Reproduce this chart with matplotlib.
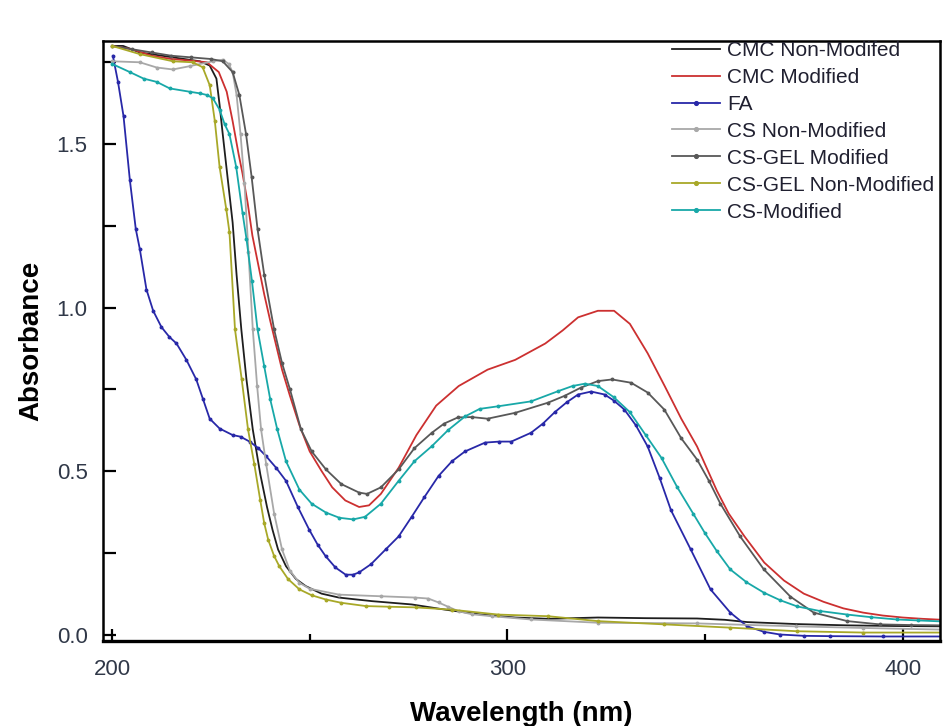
import numpy as np
import matplotlib
matplotlib.use('Agg')
import matplotlib.pyplot as plt
from matplotlib.ticker import MultipleLocator

plt.rcParams['font.family'] = ['Liberation Sans', 'DejaVu Sans']

# CMC Non-Modifed (black)
cmc_nm_wl = [200, 202.8, 207, 215.4, 222.2, 224.7, 226.4, 227.2, 228, 229.2, 230.5, 231.5, 232.7,
             234, 235.6, 237.5, 239.2, 240.6, 242, 244, 246.5, 249, 253, 257.4, 265.8, 275.8,
             284.3, 293.4, 302, 310.3, 322.9, 335, 348, 355, 360.7, 373, 386, 398, 410]
cmc_nm_a = [1.80, 1.80, 1.78, 1.765, 1.753, 1.74, 1.70, 1.62, 1.53, 1.40, 1.26, 1.10, 0.933,
            0.78, 0.627, 0.49, 0.39, 0.32, 0.26, 0.209, 0.17, 0.148, 0.125, 0.113, 0.102, 0.092,
            0.076, 0.061, 0.052, 0.048, 0.052, 0.050, 0.049, 0.045, 0.038, 0.032, 0.028, 0.026, 0.025]

# CMC Modified (red)
cmc_m_wl = [200, 205, 210, 215, 220, 224, 227, 229, 230.5, 232, 233, 234.3, 235.5, 237, 238.5,
            240, 241.6, 243, 245, 247.4, 250, 253, 255.7, 259, 262.5, 265, 268, 272.5, 277, 282,
            287.7, 295, 302, 309.6, 314, 317.9, 322.9, 327, 331, 335.5, 339.8, 344, 348, 353, 356,
            360, 365, 370, 375, 380, 385, 390, 395, 400, 405, 410]
cmc_m_a = [1.80, 1.79, 1.77, 1.76, 1.755, 1.75, 1.72, 1.66, 1.57, 1.47, 1.41, 1.32, 1.22, 1.13, 1.04,
           0.96, 0.88, 0.81, 0.73, 0.64, 0.56, 0.50, 0.45, 0.41, 0.39, 0.395, 0.43, 0.51, 0.61, 0.70,
           0.76, 0.81, 0.84, 0.89, 0.93, 0.97, 0.99, 0.99, 0.95, 0.86, 0.76, 0.66, 0.575, 0.44, 0.37,
           0.30, 0.22, 0.165, 0.125, 0.10, 0.08, 0.067, 0.058, 0.052, 0.048, 0.045]

# FA (blue)
fa_wl = [200.2, 201.5, 202.9, 204.5, 206, 207, 208.7, 210.4, 212.5, 214.5, 216.3, 218.8, 221.3, 223,
         224.7, 227.2, 230.5, 232.5, 234.8, 237, 239, 241.5, 244, 247, 249.9, 252, 254, 256.5, 259.1,
         261, 262.5, 265.5, 269.2, 272.5, 275.8, 279, 282.6, 286, 289.3, 294.4, 298, 301, 306, 309,
         312, 315, 317.9, 321.2, 324.6, 327, 329.6, 332.5, 335.5, 338.5, 341.4, 346.4, 351.4, 356.4,
         360.7, 365, 369, 375, 381.6, 395, 410]
fa_a = [1.77, 1.69, 1.585, 1.39, 1.24, 1.18, 1.055, 0.99, 0.94, 0.91, 0.89, 0.84, 0.78, 0.72,
        0.66, 0.63, 0.61, 0.605, 0.59, 0.57, 0.545, 0.51, 0.47, 0.39, 0.32, 0.275, 0.24, 0.205, 0.183,
        0.183, 0.19, 0.215, 0.26, 0.30, 0.36, 0.42, 0.485, 0.53, 0.56, 0.587, 0.59, 0.59, 0.617, 0.645,
        0.68, 0.71, 0.734, 0.743, 0.734, 0.715, 0.688, 0.64, 0.575, 0.48, 0.38, 0.26, 0.138, 0.067,
        0.025, 0.008, 0.0, -0.004, -0.005, -0.006, -0.006]

# CS Non-Modified (light grey)
cs_nm_wl = [200, 207, 211.3, 215.4, 219.6, 225.5, 228, 229.5, 230.5, 231.5, 232.5, 233.5, 234.5,
            235.6, 236.7, 237.7, 239, 241, 243, 245, 247.4, 250, 257.4, 268, 276.7, 280, 282.6,
            285, 287.7, 291, 296, 306, 322.9, 348, 373, 390, 410]
cs_nm_a = [1.753, 1.75, 1.734, 1.728, 1.738, 1.753, 1.758, 1.745, 1.72, 1.65, 1.53, 1.38, 1.17,
           0.933, 0.76, 0.627, 0.52, 0.37, 0.26, 0.195, 0.158, 0.14, 0.122, 0.117, 0.113, 0.11, 0.098,
           0.085, 0.071, 0.062, 0.056, 0.046, 0.036, 0.034, 0.025, 0.02, 0.015]

# CS-GEL Modified (dark grey)
gel_m_wl = [200, 205, 210, 215, 220, 225, 228, 230.5, 232.2, 233.9, 235.3, 236.8, 238.5, 241, 243,
            245, 247.8, 250.5, 254.1, 258, 262.5, 264.5, 268, 272.5, 276.5, 280.9, 284, 287.5, 291,
            295, 302, 310.3, 314.5, 318.6, 322.9, 326.5, 331.3, 335.5, 339.7, 344, 348, 351, 353.9,
            358.9, 364.9, 371.6, 377.5, 386, 394.2, 402, 410]
gel_m_a = [1.80, 1.79, 1.78, 1.77, 1.765, 1.76, 1.753, 1.72, 1.65, 1.53, 1.40, 1.24, 1.10, 0.933, 0.83,
           0.75, 0.627, 0.56, 0.505, 0.46, 0.434, 0.43, 0.45, 0.505, 0.57, 0.617, 0.645, 0.664, 0.665,
           0.66, 0.678, 0.709, 0.73, 0.755, 0.775, 0.78, 0.77, 0.74, 0.688, 0.60, 0.535, 0.47, 0.40,
           0.30, 0.199, 0.116, 0.067, 0.041, 0.031, 0.029, 0.028]

# CS-GEL Non-Modified (olive)
gel_nm_wl = [200, 207, 215.4, 220.4, 222.9, 224.7, 226, 227.2, 228.9, 229.7, 231.1, 232.8, 234.4,
             236, 237.5, 238.5, 239.5, 241, 242.3, 244.5, 247.4, 250.5, 254.1, 258, 264.2, 270,
             276.8, 285.9, 297.7, 310.3, 322.9, 339.7, 356.4, 373.3, 390, 410]
gel_nm_a = [1.80, 1.775, 1.753, 1.75, 1.735, 1.68, 1.57, 1.43, 1.30, 1.23, 0.933, 0.78, 0.627,
            0.52, 0.41, 0.34, 0.29, 0.24, 0.209, 0.17, 0.138, 0.12, 0.107, 0.097, 0.087, 0.085,
            0.083, 0.076, 0.061, 0.056, 0.041, 0.031, 0.021, 0.01, 0.006, 0.006]

# CS-Modified (teal)
cs_m_wl = [200, 204.5, 208, 211.3, 214.6, 219.6, 222.2, 224, 225.5, 227.2, 228.5, 229.7, 231.4, 233,
           234, 235.4, 236.8, 238.5, 240, 241.8, 244, 247.4, 250.5, 254.1, 257.5, 261, 264, 268,
           272.5, 276.5, 280.9, 285, 289.3, 293, 297.7, 306, 312.8, 316.5, 319.6, 322.9, 327, 331,
           335, 339, 343, 347, 350, 353, 356.4, 360.5, 364.9, 369, 373.3, 379, 386, 392, 398.5, 404, 410]
cs_m_a = [1.745, 1.72, 1.70, 1.69, 1.67, 1.66, 1.655, 1.65, 1.64, 1.605, 1.56, 1.53, 1.43, 1.29,
          1.21, 1.08, 0.933, 0.82, 0.72, 0.627, 0.53, 0.443, 0.40, 0.373, 0.357, 0.352, 0.36, 0.40,
          0.47, 0.53, 0.576, 0.625, 0.667, 0.69, 0.698, 0.713, 0.744, 0.76, 0.767, 0.76, 0.725, 0.68,
          0.61, 0.54, 0.45, 0.37, 0.31, 0.255, 0.199, 0.16, 0.128, 0.105, 0.086, 0.072, 0.061, 0.053,
          0.046, 0.043, 0.04]

series = [
    ('CMC Non-Modifed', cmc_nm_wl, cmc_nm_a, '#1e1e1e', None),
    ('CMC Modified', cmc_m_wl, cmc_m_a, '#cc3030', None),
    ('FA', fa_wl, fa_a, '#2828a8', 'o'),
    ('CS Non-Modified', cs_nm_wl, cs_nm_a, '#a8a8a8', 'o'),
    ('CS-GEL Modified', gel_m_wl, gel_m_a, '#585858', 'o'),
    ('CS-GEL Non-Modified', gel_nm_wl, gel_nm_a, '#a8a828', 'o'),
    ('CS-Modified', cs_m_wl, cs_m_a, '#18a8a8', 'o'),
]

fig = plt.figure(figsize=(9.43, 7.26), dpi=100)
ax = fig.add_axes([0.1092, 0.117, 0.8878, 0.8265])

for name, wl, a, col, mk in series:
    ax.plot(wl, a, color=col, lw=1.3, marker=mk, ms=1.8, label=name)

ax.set_xlim(197.7, 409.5)
ax.set_ylim(-0.02, 1.815)

ax.xaxis.set_major_locator(MultipleLocator(100))
ax.xaxis.set_minor_locator(MultipleLocator(50))
ax.yaxis.set_major_locator(MultipleLocator(0.5))
ax.yaxis.set_minor_locator(MultipleLocator(0.25))
ax.yaxis.set_major_formatter(matplotlib.ticker.FormatStrFormatter('%.1f'))

lab_col = '#303848'
ax.tick_params(axis='x', which='major', direction='in', length=9, width=1.6,
               labelsize=16, pad=13, colors='black', labelcolor=lab_col)
ax.tick_params(axis='x', which='minor', direction='in', length=5, width=1.6)
ax.tick_params(axis='y', which='both', direction='in', length=9, width=1.6,
               labelsize=16, pad=11, labelcolor=lab_col)

for s in ax.spines.values():
    s.set_linewidth(1.8)
ax.spines['bottom'].set_linewidth(2.4)

ax.set_xlabel('Wavelength (nm)', fontsize=20, fontweight='bold', labelpad=15)
ax.set_ylabel('Absorbance', fontsize=20, fontweight='bold', labelpad=9)

leg = ax.legend(loc='upper left', bbox_to_anchor=(672 / 943, 1 - 41 / 726),
                bbox_transform=fig.transFigure, frameon=False, fontsize=15,
                handlelength=2.3, handletextpad=0.35, labelspacing=0.38,
                borderpad=0, borderaxespad=0, markerscale=1.5)
for t in leg.get_texts():
    t.set_color('#202030')

fig.savefig('out.png', dpi=100)
